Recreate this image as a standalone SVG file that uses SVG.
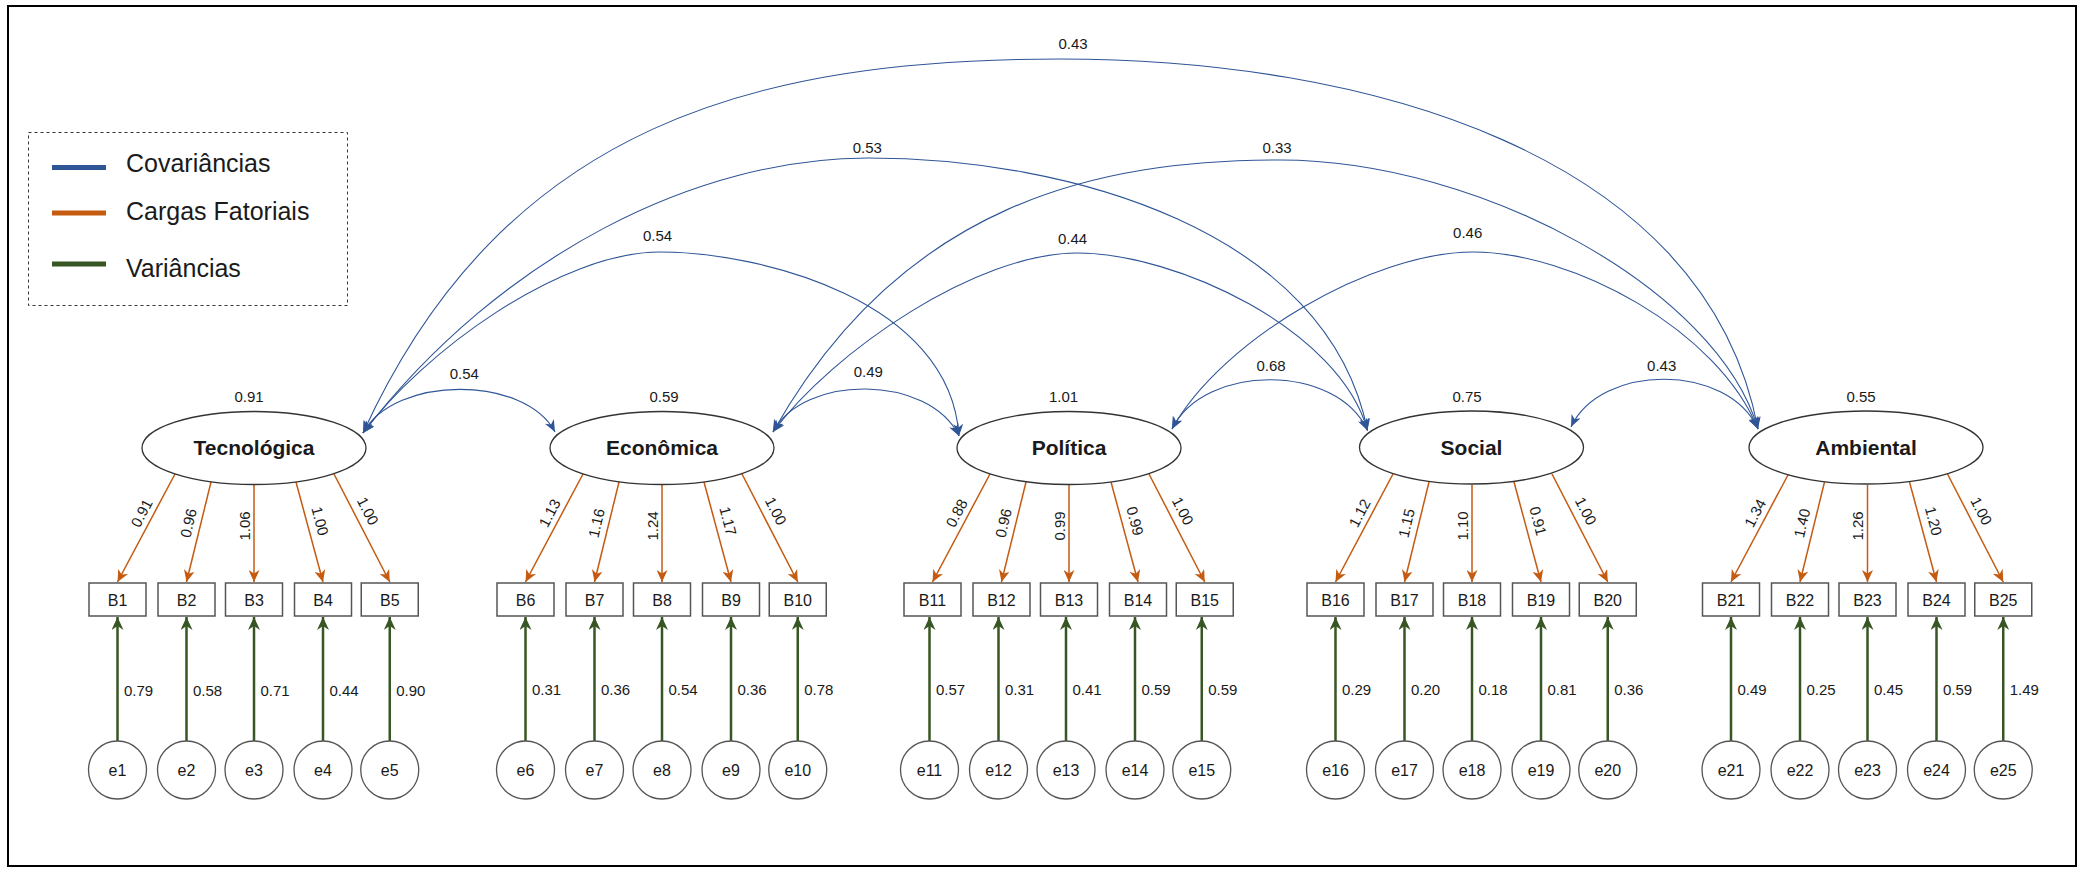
<svg xmlns="http://www.w3.org/2000/svg" width="2083" height="874" viewBox="0 0 2083 874">
<defs>
<style>
text{font-family:"Liberation Sans",Arial,sans-serif;fill:#1a1a1a}
.lat{fill:#fff;stroke:#333;stroke-width:1.3}
.lt{font-size:21px;font-weight:bold;text-anchor:middle}
.box{fill:#fff;stroke:#555;stroke-width:1.5}
.err{fill:#fff;stroke:#555;stroke-width:1.3}
.nt{font-size:16px;text-anchor:middle}
.num{font-size:15px}
.mid{text-anchor:middle}
.cov{fill:none;stroke:#2F5597;stroke-width:1.1;marker-start:url(#ab);marker-end:url(#ab)}
.load{stroke:#C55A11;stroke-width:1.5;marker-end:url(#ao)}
.var{stroke:#375623;stroke-width:2.5;marker-end:url(#ag)}
.leg{font-size:25px}
</style>
<marker id="ab" markerUnits="userSpaceOnUse" markerWidth="12" markerHeight="10" viewBox="0 0 12 10" refX="12" refY="5" orient="auto-start-reverse"><path d="M0,0 L12,5 L0,10 L3.5,5 Z" fill="#2F5597"/></marker>
<marker id="ao" markerUnits="userSpaceOnUse" markerWidth="12" markerHeight="11" viewBox="0 0 12 11" refX="12" refY="5.5" orient="auto"><path d="M0,0 L12,5.5 L0,11 L3.5,5.5 Z" fill="#C55A11"/></marker>
<marker id="ag" markerUnits="userSpaceOnUse" markerWidth="13" markerHeight="12" viewBox="0 0 13 12" refX="13" refY="6" orient="auto"><path d="M0,0 L13,6 L0,12 L4,6 Z" fill="#375623"/></marker>
</defs>
<rect x="0" y="0" width="2083" height="874" fill="#fff"/>
<rect x="8" y="6" width="2068" height="860" fill="none" stroke="#000" stroke-width="2"/>

<g id="legend">
<rect x="28.5" y="132.5" width="319" height="173" fill="none" stroke="#333" stroke-width="1" stroke-dasharray="3,3"/>
<line x1="52" y1="167.5" x2="106" y2="167.5" stroke="#2F5597" stroke-width="5"/>
<line x1="52" y1="213" x2="106" y2="213" stroke="#C55A11" stroke-width="5"/>
<line x1="52" y1="264" x2="106" y2="264" stroke="#375623" stroke-width="5"/>
<text class="leg" x="126" y="172">Covariâncias</text>
<text class="leg" x="126" y="219.5">Cargas Fatoriais</text>
<text class="leg" x="126" y="276.5">Variâncias</text>
</g>

<g id="connectors">
<!-- covariances -->
<path class="cov" d="M363,433 C505,122 760,59 1060,59 C1360,59 1705,150 1758,429"/>
<path class="cov" d="M363,433 C503,252 700,158 868,158 C1068,158 1327,230 1367.5,430.5"/>
<path class="cov" d="M773,432 C903,201 1100,160 1280,160 C1480,160 1718,290 1758,429"/>
<path class="cov" d="M363,433 C423,352 560,252 660,252 C760,252 950,300 959,436"/>
<path class="cov" d="M773,432 C833,351 977,253 1077,253 C1177,253 1340,330 1367.5,430.5"/>
<path class="cov" d="M1172,429 C1222,339 1373,252 1473,252 C1573,252 1718,330 1758,429"/>
<path class="cov" d="M363,433 C395,375 525,375 555,432"/>
<path class="cov" d="M773,432 C803,374 929,374 959,436"/>
<path class="cov" d="M1172,429 C1204,363 1337,363 1367.5,430.5"/>
<path class="cov" d="M1571,427 C1601,363 1728,363 1758,429"/>
<!-- loadings -->
<line class="load" x1="175" y1="474" x2="117.5" y2="582"/>
<line class="load" x1="211" y1="482" x2="186.5" y2="582"/>
<line class="load" x1="254" y1="485" x2="254" y2="582"/>
<line class="load" x1="296" y1="482" x2="323" y2="582"/>
<line class="load" x1="334" y1="474" x2="389.75" y2="582"/>
<line class="load" x1="583" y1="474" x2="525.5" y2="582"/>
<line class="load" x1="619" y1="482" x2="594.5" y2="582"/>
<line class="load" x1="662" y1="485" x2="662" y2="582"/>
<line class="load" x1="704" y1="482" x2="731" y2="582"/>
<line class="load" x1="742" y1="474" x2="797.75" y2="582"/>
<line class="load" x1="990" y1="474" x2="932.5" y2="582"/>
<line class="load" x1="1026" y1="482" x2="1001.5" y2="582"/>
<line class="load" x1="1069" y1="485" x2="1069" y2="582"/>
<line class="load" x1="1111" y1="482" x2="1138" y2="582"/>
<line class="load" x1="1149" y1="474" x2="1204.75" y2="582"/>
<line class="load" x1="1393" y1="474" x2="1335.5" y2="582"/>
<line class="load" x1="1429" y1="482" x2="1404.5" y2="582"/>
<line class="load" x1="1472" y1="485" x2="1472" y2="582"/>
<line class="load" x1="1514" y1="482" x2="1541" y2="582"/>
<line class="load" x1="1552" y1="474" x2="1607.75" y2="582"/>
<line class="load" x1="1788.5" y1="474" x2="1731" y2="582"/>
<line class="load" x1="1824.5" y1="482" x2="1800" y2="582"/>
<line class="load" x1="1867.5" y1="485" x2="1867.5" y2="582"/>
<line class="load" x1="1909.5" y1="482" x2="1936.5" y2="582"/>
<line class="load" x1="1947.5" y1="474" x2="2003.25" y2="582"/>
<!-- residual variances -->
<line class="var" x1="117.5" y1="741" x2="117.5" y2="617"/>
<line class="var" x1="186.5" y1="741" x2="186.5" y2="617"/>
<line class="var" x1="254" y1="741" x2="254" y2="617"/>
<line class="var" x1="323" y1="741" x2="323" y2="617"/>
<line class="var" x1="389.75" y1="741" x2="389.75" y2="617"/>
<line class="var" x1="525.5" y1="741" x2="525.5" y2="617"/>
<line class="var" x1="594.5" y1="741" x2="594.5" y2="617"/>
<line class="var" x1="662" y1="741" x2="662" y2="617"/>
<line class="var" x1="731" y1="741" x2="731" y2="617"/>
<line class="var" x1="797.75" y1="741" x2="797.75" y2="617"/>
<line class="var" x1="929.5" y1="741" x2="929.5" y2="617"/>
<line class="var" x1="998.5" y1="741" x2="998.5" y2="617"/>
<line class="var" x1="1066" y1="741" x2="1066" y2="617"/>
<line class="var" x1="1135" y1="741" x2="1135" y2="617"/>
<line class="var" x1="1201.75" y1="741" x2="1201.75" y2="617"/>
<line class="var" x1="1335.5" y1="741" x2="1335.5" y2="617"/>
<line class="var" x1="1404.5" y1="741" x2="1404.5" y2="617"/>
<line class="var" x1="1472" y1="741" x2="1472" y2="617"/>
<line class="var" x1="1541" y1="741" x2="1541" y2="617"/>
<line class="var" x1="1607.75" y1="741" x2="1607.75" y2="617"/>
<line class="var" x1="1731" y1="741" x2="1731" y2="617"/>
<line class="var" x1="1800" y1="741" x2="1800" y2="617"/>
<line class="var" x1="1867.5" y1="741" x2="1867.5" y2="617"/>
<line class="var" x1="1936.5" y1="741" x2="1936.5" y2="617"/>
<line class="var" x1="2003.25" y1="741" x2="2003.25" y2="617"/>
</g>

<g id="edge-labels">
<g class="num mid">
<text x="1073" y="49.4">0.43</text>
<text x="867.3" y="152.7">0.53</text>
<text x="1277" y="152.7">0.33</text>
<text x="657.5" y="241.1">0.54</text>
<text x="1072.5" y="244.4">0.44</text>
<text x="1467.7" y="238.1">0.46</text>
<text x="464.3" y="379.4">0.54</text>
<text x="868.3" y="377.1">0.49</text>
<text x="1271" y="371.4">0.68</text>
<text x="1661.7" y="371.4">0.43</text>
<text x="249" y="401.5">0.91</text>
<text x="664" y="401.5">0.59</text>
<text x="1063.5" y="401.5">1.01</text>
<text x="1467" y="401.5">0.75</text>
<text x="1861" y="401.5">0.55</text>
</g>
<g class="num mid">
<text x="141.5" y="513" dy="5.4" transform="rotate(-62.2 141.5 513)">0.91</text>
<text x="188.3" y="523" dy="5.4" transform="rotate(-76.5 188.3 523)">0.96</text>
<text x="244.3" y="526" dy="5.4" transform="rotate(-90 244.3 526)">1.06</text>
<text x="320.2" y="521" dy="5.4" transform="rotate(74.9 320.2 521)">1.00</text>
<text x="368" y="511" dy="5.4" transform="rotate(62.4 368 511)">1.00</text>
<text x="549.5" y="513" dy="5.4" transform="rotate(-62.2 549.5 513)">1.13</text>
<text x="596.3" y="523" dy="5.4" transform="rotate(-76.5 596.3 523)">1.16</text>
<text x="652.3" y="526" dy="5.4" transform="rotate(-90 652.3 526)">1.24</text>
<text x="728.2" y="521" dy="5.4" transform="rotate(74.9 728.2 521)">1.17</text>
<text x="776" y="511" dy="5.4" transform="rotate(62.4 776 511)">1.00</text>
<text x="956.5" y="513" dy="5.4" transform="rotate(-62.2 956.5 513)">0.88</text>
<text x="1003.3" y="523" dy="5.4" transform="rotate(-76.5 1003.3 523)">0.96</text>
<text x="1059.3" y="526" dy="5.4" transform="rotate(-90 1059.3 526)">0.99</text>
<text x="1135.2" y="521" dy="5.4" transform="rotate(74.9 1135.2 521)">0.99</text>
<text x="1183" y="511" dy="5.4" transform="rotate(62.4 1183 511)">1.00</text>
<text x="1359.5" y="513" dy="5.4" transform="rotate(-62.2 1359.5 513)">1.12</text>
<text x="1406.3" y="523" dy="5.4" transform="rotate(-76.5 1406.3 523)">1.15</text>
<text x="1462.3" y="526" dy="5.4" transform="rotate(-90 1462.3 526)">1.10</text>
<text x="1538.2" y="521" dy="5.4" transform="rotate(74.9 1538.2 521)">0.91</text>
<text x="1586" y="511" dy="5.4" transform="rotate(62.4 1586 511)">1.00</text>
<text x="1755" y="513" dy="5.4" transform="rotate(-62.2 1755 513)">1.34</text>
<text x="1801.8" y="523" dy="5.4" transform="rotate(-76.5 1801.8 523)">1.40</text>
<text x="1857.8" y="526" dy="5.4" transform="rotate(-90 1857.8 526)">1.26</text>
<text x="1933.7" y="521" dy="5.4" transform="rotate(74.9 1933.7 521)">1.20</text>
<text x="1981.5" y="511" dy="5.4" transform="rotate(62.4 1981.5 511)">1.00</text>
</g>
<g class="num">
<text x="124" y="696">0.79</text>
<text x="193" y="696">0.58</text>
<text x="260.5" y="696">0.71</text>
<text x="329.5" y="696">0.44</text>
<text x="396.25" y="696">0.90</text>
<text x="532" y="694.5">0.31</text>
<text x="601" y="694.5">0.36</text>
<text x="668.5" y="694.5">0.54</text>
<text x="737.5" y="694.5">0.36</text>
<text x="804.25" y="694.5">0.78</text>
<text x="936" y="694.5">0.57</text>
<text x="1005" y="694.5">0.31</text>
<text x="1072.5" y="694.5">0.41</text>
<text x="1141.5" y="694.5">0.59</text>
<text x="1208.25" y="694.5">0.59</text>
<text x="1342" y="694.5">0.29</text>
<text x="1411" y="694.5">0.20</text>
<text x="1478.5" y="694.5">0.18</text>
<text x="1547.5" y="694.5">0.81</text>
<text x="1614.25" y="694.5">0.36</text>
<text x="1737.5" y="694.5">0.49</text>
<text x="1806.5" y="694.5">0.25</text>
<text x="1874" y="694.5">0.45</text>
<text x="1943" y="694.5">0.59</text>
<text x="2009.75" y="694.5">1.49</text>
</g>
</g>

<g id="latent-Tecnologica"><ellipse class="lat" cx="254" cy="448" rx="112" ry="36.5"/><text class="lt" x="254" y="455">Tecnológica</text></g>
<g id="latent-Economica"><ellipse class="lat" cx="662" cy="448" rx="112" ry="36.5"/><text class="lt" x="662" y="455">Econômica</text></g>
<g id="latent-Politica"><ellipse class="lat" cx="1069" cy="448" rx="112" ry="36.5"/><text class="lt" x="1069" y="455">Política</text></g>
<g id="latent-Social"><ellipse class="lat" cx="1471.5" cy="447.5" rx="112" ry="36.5"/><text class="lt" x="1471.5" y="455">Social</text></g>
<g id="latent-Ambiental"><ellipse class="lat" cx="1866" cy="447.5" rx="117" ry="36.5"/><text class="lt" x="1866" y="455">Ambiental</text></g>

<g id="B1"><rect class="box" x="89" y="583" width="57" height="33"/><text class="nt" x="117.5" y="605.5">B1</text></g>
<g id="B2"><rect class="box" x="158" y="583" width="57" height="33"/><text class="nt" x="186.5" y="605.5">B2</text></g>
<g id="B3"><rect class="box" x="225.5" y="583" width="57" height="33"/><text class="nt" x="254" y="605.5">B3</text></g>
<g id="B4"><rect class="box" x="294.5" y="583" width="57" height="33"/><text class="nt" x="323" y="605.5">B4</text></g>
<g id="B5"><rect class="box" x="361.25" y="583" width="57" height="33"/><text class="nt" x="389.75" y="605.5">B5</text></g>
<g id="B6"><rect class="box" x="497" y="583" width="57" height="33"/><text class="nt" x="525.5" y="605.5">B6</text></g>
<g id="B7"><rect class="box" x="566" y="583" width="57" height="33"/><text class="nt" x="594.5" y="605.5">B7</text></g>
<g id="B8"><rect class="box" x="633.5" y="583" width="57" height="33"/><text class="nt" x="662" y="605.5">B8</text></g>
<g id="B9"><rect class="box" x="702.5" y="583" width="57" height="33"/><text class="nt" x="731" y="605.5">B9</text></g>
<g id="B10"><rect class="box" x="769.25" y="583" width="57" height="33"/><text class="nt" x="797.75" y="605.5">B10</text></g>
<g id="B11"><rect class="box" x="904" y="583" width="57" height="33"/><text class="nt" x="932.5" y="605.5">B11</text></g>
<g id="B12"><rect class="box" x="973" y="583" width="57" height="33"/><text class="nt" x="1001.5" y="605.5">B12</text></g>
<g id="B13"><rect class="box" x="1040.5" y="583" width="57" height="33"/><text class="nt" x="1069" y="605.5">B13</text></g>
<g id="B14"><rect class="box" x="1109.5" y="583" width="57" height="33"/><text class="nt" x="1138" y="605.5">B14</text></g>
<g id="B15"><rect class="box" x="1176.25" y="583" width="57" height="33"/><text class="nt" x="1204.75" y="605.5">B15</text></g>
<g id="B16"><rect class="box" x="1307" y="583" width="57" height="33"/><text class="nt" x="1335.5" y="605.5">B16</text></g>
<g id="B17"><rect class="box" x="1376" y="583" width="57" height="33"/><text class="nt" x="1404.5" y="605.5">B17</text></g>
<g id="B18"><rect class="box" x="1443.5" y="583" width="57" height="33"/><text class="nt" x="1472" y="605.5">B18</text></g>
<g id="B19"><rect class="box" x="1512.5" y="583" width="57" height="33"/><text class="nt" x="1541" y="605.5">B19</text></g>
<g id="B20"><rect class="box" x="1579.25" y="583" width="57" height="33"/><text class="nt" x="1607.75" y="605.5">B20</text></g>
<g id="B21"><rect class="box" x="1702.5" y="583" width="57" height="33"/><text class="nt" x="1731" y="605.5">B21</text></g>
<g id="B22"><rect class="box" x="1771.5" y="583" width="57" height="33"/><text class="nt" x="1800" y="605.5">B22</text></g>
<g id="B23"><rect class="box" x="1839" y="583" width="57" height="33"/><text class="nt" x="1867.5" y="605.5">B23</text></g>
<g id="B24"><rect class="box" x="1908" y="583" width="57" height="33"/><text class="nt" x="1936.5" y="605.5">B24</text></g>
<g id="B25"><rect class="box" x="1974.75" y="583" width="57" height="33"/><text class="nt" x="2003.25" y="605.5">B25</text></g>

<g id="e1"><circle class="err" cx="117.5" cy="770" r="29"/><text class="nt" x="117.5" y="776">e1</text></g>
<g id="e2"><circle class="err" cx="186.5" cy="770" r="29"/><text class="nt" x="186.5" y="776">e2</text></g>
<g id="e3"><circle class="err" cx="254" cy="770" r="29"/><text class="nt" x="254" y="776">e3</text></g>
<g id="e4"><circle class="err" cx="323" cy="770" r="29"/><text class="nt" x="323" y="776">e4</text></g>
<g id="e5"><circle class="err" cx="389.75" cy="770" r="29"/><text class="nt" x="389.75" y="776">e5</text></g>
<g id="e6"><circle class="err" cx="525.5" cy="770" r="29"/><text class="nt" x="525.5" y="776">e6</text></g>
<g id="e7"><circle class="err" cx="594.5" cy="770" r="29"/><text class="nt" x="594.5" y="776">e7</text></g>
<g id="e8"><circle class="err" cx="662" cy="770" r="29"/><text class="nt" x="662" y="776">e8</text></g>
<g id="e9"><circle class="err" cx="731" cy="770" r="29"/><text class="nt" x="731" y="776">e9</text></g>
<g id="e10"><circle class="err" cx="797.75" cy="770" r="29"/><text class="nt" x="797.75" y="776">e10</text></g>
<g id="e11"><circle class="err" cx="929.5" cy="770" r="29"/><text class="nt" x="929.5" y="776">e11</text></g>
<g id="e12"><circle class="err" cx="998.5" cy="770" r="29"/><text class="nt" x="998.5" y="776">e12</text></g>
<g id="e13"><circle class="err" cx="1066" cy="770" r="29"/><text class="nt" x="1066" y="776">e13</text></g>
<g id="e14"><circle class="err" cx="1135" cy="770" r="29"/><text class="nt" x="1135" y="776">e14</text></g>
<g id="e15"><circle class="err" cx="1201.75" cy="770" r="29"/><text class="nt" x="1201.75" y="776">e15</text></g>
<g id="e16"><circle class="err" cx="1335.5" cy="770" r="29"/><text class="nt" x="1335.5" y="776">e16</text></g>
<g id="e17"><circle class="err" cx="1404.5" cy="770" r="29"/><text class="nt" x="1404.5" y="776">e17</text></g>
<g id="e18"><circle class="err" cx="1472" cy="770" r="29"/><text class="nt" x="1472" y="776">e18</text></g>
<g id="e19"><circle class="err" cx="1541" cy="770" r="29"/><text class="nt" x="1541" y="776">e19</text></g>
<g id="e20"><circle class="err" cx="1607.75" cy="770" r="29"/><text class="nt" x="1607.75" y="776">e20</text></g>
<g id="e21"><circle class="err" cx="1731" cy="770" r="29"/><text class="nt" x="1731" y="776">e21</text></g>
<g id="e22"><circle class="err" cx="1800" cy="770" r="29"/><text class="nt" x="1800" y="776">e22</text></g>
<g id="e23"><circle class="err" cx="1867.5" cy="770" r="29"/><text class="nt" x="1867.5" y="776">e23</text></g>
<g id="e24"><circle class="err" cx="1936.5" cy="770" r="29"/><text class="nt" x="1936.5" y="776">e24</text></g>
<g id="e25"><circle class="err" cx="2003.25" cy="770" r="29"/><text class="nt" x="2003.25" y="776">e25</text></g>
</svg>
